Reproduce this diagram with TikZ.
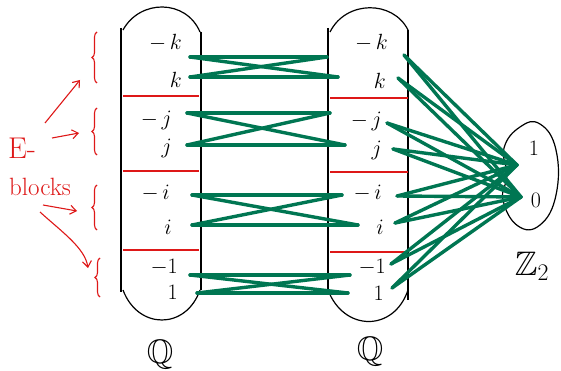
\RequirePackage{fix-cm}
\documentclass[tikz,border=0pt]{standalone}
\usepackage{amssymb}
\usetikzlibrary{arrows.meta,decorations.pathreplacing}
\definecolor{edgegreen}{RGB}{0,118,82}
\definecolor{penred}{RGB}{222,24,24}
\begin{document}
\begin{tikzpicture}[x=1pt,y=-1pt,
  ink/.style={black,line width=1.2pt},
  redline/.style={penred,line width=1.1pt},
  gedge/.style={edgegreen,line width=3.4pt,line cap=round},
  lbl/.style={inner sep=0pt,font=\fontsize{22}{24}\selectfont},
  bigq/.style={inner sep=0pt,font=\fontsize{34}{36}\selectfont},
  redtext/.style={penred,inner sep=0pt},
  rbrace/.style={penred,line width=1.1pt,decorate,decoration={brace,amplitude=5pt}},
  rarrow/.style={penred,line width=1.1pt,-{Straight Barb[length=6pt,width=9pt]}}]
\useasboundingbox (0,0) rectangle (561,371);

% ---- left set Q ----
\draw[ink] (121,28) -- (121,292);
\draw[ink] (201,32) -- (201,290);
\draw[ink] (123,30) .. controls (140,-1) and (186,-1) .. (200,32);
\draw[ink] (123,290) .. controls (138,330) and (186,330) .. (200,290);
\foreach \y in {96,171,250} \draw[redline] (123,\y) -- (199,\y);

% ---- right set Q ----
\draw[ink] (328,28) -- (328,290);
\draw[ink] (408,30) -- (408,300);
\draw[ink] (330,32) .. controls (346,0) and (393,0) .. (408,30);
\draw[ink] (328,290) .. controls (344,332) and (394,332) .. (408,290);
\foreach \y in {98,172,252} \draw[redline] (330,\y) -- (408,\y);

% ---- Z2 blob ----
\draw[ink] plot[smooth cycle,tension=0.75] coordinates
  {(504,148) (520,127) (540,124) (556,150) (556,195) (540,225) (518,226) (503,200) (507,175)};

% ---- labels ----
\node[lbl,anchor=east] (Lmk) at (182,43) {$-\,k$};
\node[lbl,anchor=east] (Lk)  at (182,80) {$k$};
\node[lbl,anchor=east] (Lmj) at (172,120) {$-\,j$};
\node[lbl,anchor=east] (Lj)  at (172,148) {$j$};
\node[lbl,anchor=east] (Lmi) at (170,193) {$-\,i$};
\node[lbl,anchor=east] (Li)  at (172,227) {$i$};
\node[lbl,anchor=east] (Lm1) at (178,267) {$-1$};
\node[lbl,anchor=east] (L1)  at (178,292) {$1$};

\node[lbl,anchor=east] (Rmk) at (388,43) {$-\,k$};
\node[lbl,anchor=east] (Rk)  at (386,81) {$k$};
\node[lbl,anchor=east] (Rmj) at (382,121) {$-\,j$};
\node[lbl,anchor=east] (Rj)  at (382,150) {$j$};
\node[lbl,anchor=east] (Rmi) at (382,193) {$-\,i$};
\node[lbl,anchor=east] (Ri)  at (384,227) {$i$};
\node[lbl,anchor=east] (Rm1) at (386,267) {$-1$};
\node[lbl,anchor=east] (R1)  at (384,293) {$1$};

\node[lbl] (Zone)  at (534,148) {$1$};
\node[lbl] (Zzero) at (536,200) {$0$};

\node[bigq] (Q1) at (160,355) {$\mathbb{Q}$};
\node[bigq] (Q2) at (370,352) {$\mathbb{Q}$};
\node[bigq] (Z2) at (532,266) {$\mathbb{Z}_2$};

% ---- green edges between the two copies of Q ----
\coordinate (L1a) at (190,57);  \coordinate (L1b) at (190,77);
\coordinate (R1a) at (327,57);  \coordinate (R1b) at (338,77);
\coordinate (L2a) at (187,113); \coordinate (L2b) at (187,145);
\coordinate (R2a) at (330,113); \coordinate (R2b) at (345,145);
\coordinate (L3a) at (192,195); \coordinate (L3b) at (192,225);
\coordinate (R3a) at (342,195); \coordinate (R3b) at (358,225);
\coordinate (L4a) at (190,275); \coordinate (L4b) at (197,293);
\coordinate (R4a) at (350,275); \coordinate (R4b) at (348,293);
\foreach \b in {1,2,3,4}{
  \draw[gedge] (L\b a) -- (R\b a);
  \draw[gedge] (L\b b) -- (R\b b);
  \draw[gedge] (L\b a) -- (R\b b);
  \draw[gedge] (L\b b) -- (R\b a);
}

% ---- fan to Z2 ----
\coordinate (F1) at (404,55);
\coordinate (F2) at (398,78);
\coordinate (F3) at (387,123);
\coordinate (F4) at (393,149);
\coordinate (F5) at (397,196);
\coordinate (F6) at (395,223);
\coordinate (F7) at (391,264);
\coordinate (F8) at (392,288);
\coordinate (T1) at (517,165);
\coordinate (T0) at (521,197);
\foreach \s in {1,...,8}{
  \draw[gedge] (F\s) -- (T1);
  \draw[gedge] (F\s) -- (T0);
}

% ---- E-blocks annotation ----
\node[redtext,font=\fontsize{30}{32}\selectfont] (E) at (22,148) {E-};
\node[redtext,font=\fontsize{25}{27}\selectfont] (blocks) at (40,187) {blocks};
\draw[rbrace] (97,83) -- (97,32);
\draw[rbrace] (97,155) -- (97,108);
\draw[rbrace] (97,230) -- (97,185);
\draw[rbrace] (100,297) -- (100,258);
\coordinate (B1) at (80,80);
\coordinate (B2) at (79,133);
\coordinate (B3) at (77,211);
\coordinate (B4) at (88,268);
\coordinate (A1) at (45,123);
\coordinate (A2) at (52,138);
\coordinate (A3) at (43,205);
\coordinate (A4) at (40,212);
\draw[rarrow] (A1) -- (B1);
\draw[rarrow] (A2) -- (B2);
\draw[rarrow] (A3) -- (B3);
\draw[rarrow] (A4) .. controls (62,232) and (85,248) .. (B4);
\end{tikzpicture}
\end{document}
